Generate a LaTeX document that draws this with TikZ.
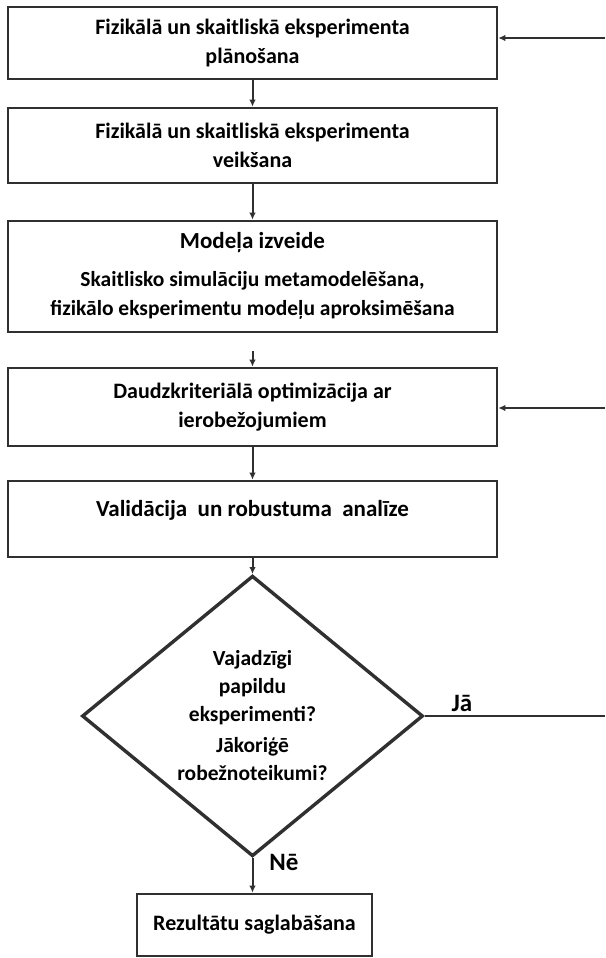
\documentclass[tikz,border=0pt]{standalone}
\usepackage{fontspec}
\setmainfont{Carlito}
\usetikzlibrary{shapes.geometric,arrows.meta}
\definecolor{linegray}{HTML}{303030}
\tikzset{
  box/.style={draw=linegray, line width=2.6pt, rectangle, align=center, inner sep=0pt,
    font=\bfseries\fontsize{22}{29}\selectfont},
  conn/.style={draw=linegray, line width=2pt, -{Latex[length=7pt,width=6.5pt]}},
  plainline/.style={draw=linegray, line width=2pt},
  lbl/.style={font=\bfseries\fontsize{25}{30}\selectfont, inner sep=0pt},
}
\begin{document}
\begin{tikzpicture}[x=1pt,y=-1pt]
\path[use as bounding box, fill=white] (0,0) rectangle (605,958);

\node[box, minimum width=489pt, minimum height=72pt] (b1) at (252.5,43)
  {Fizikālā un skaitliskā eksperimenta\\plānošana};
\node[box, minimum width=489pt, minimum height=75pt] (b2) at (252.5,145.5)
  {Fizikālā un skaitliskā eksperimenta\\veikšana};
\node[box, minimum width=489pt, minimum height=111pt] (b3) at (252.5,276.5)
  {\raisebox{2pt}[\height][\depth]{\fontsize{23}{28}\selectfont Modeļa izveide}\\[7pt]
   {\fontsize{21.5}{25}\selectfont Skaitlisko simulāciju metamodelēšana,}\\
   {\fontsize{21.5}{25}\selectfont fizikālo eksperimentu modeļu aproksimēšana}};
\node[box, minimum width=489pt, minimum height=78pt] (b4) at (252.5,407)
  {Daudzkriteriālā optimizācija ar\\ierobežojumiem};
\node[box, minimum width=489pt, minimum height=76pt] (b5) at (252.5,519)
  {\raisebox{9pt}[\height][\depth]{\fontsize{23}{28}\selectfont Validācija\ \ un robustuma\ \ analīze}};
\node[diamond, draw=linegray, line width=3.4pt, minimum width=341pt, minimum height=264pt,
  inner sep=0pt, align=center, font=\bfseries\fontsize{21.5}{28}\selectfont] (d) at (252.5,716)
  {Vajadzīgi\\papildu\\eksperimenti?\\[3pt]Jākoriģē\\robežnoteikumi?};
\node[box, minimum width=235pt, minimum height=62pt] (b6) at (254.5,925)
  {Rezultātu saglabāšana};

\coordinate (r1) at (605,38);
\coordinate (r4) at (605,408);
\coordinate (rd) at (605,716);

\draw[conn] (b1) -- (b2);
\draw[conn] (b2) -- (b3);
\draw[conn] ([yshift=-18pt]b3.south) -- (b4);
\draw[conn] (b4) -- (b5);
\draw[conn] (b5) -- (d.north);
\draw[conn] (d.south) -- (d.south |- b6.north);
\draw[conn] (r1) -- (r1 -| b1.east);
\draw[conn] (r4) -- (r4 -| b4.east);
\draw[plainline] (d.east) -- (d.east -| rd);

\node[lbl] (ja) at (462,703) {Jā};
\node[lbl] (ne) at (284,862) {Nē};
\end{tikzpicture}
\end{document}
